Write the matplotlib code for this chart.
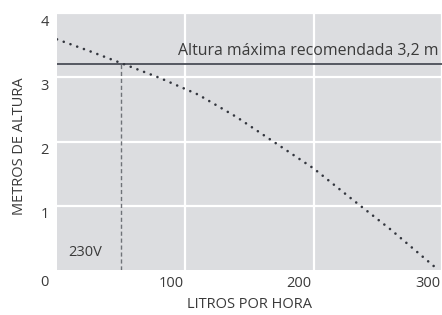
import matplotlib
matplotlib.use("Agg")
import matplotlib.pyplot as plt
import matplotlib.transforms as mtransforms

# flow (litres/hour) vs head (metres)
flow = [0, 25, 50, 80, 110, 140, 170, 200, 230, 260, 296]
height = [3.59, 3.41, 3.22, 2.99, 2.73, 2.38, 1.98, 1.58, 1.10, 0.63, 0.02]

max_height = 3.2
max_label = "Altura máxima recomendada 3,2 m"
voltage_flow = 50
voltage_label = "230V"

x_ticks = [100, 200, 300]
y_ticks = [1, 2, 3, 4]

TEXT = "#3a3a3a"
plt.rcParams["font.family"] = ["Open Sans", "DejaVu Sans"]

fig = plt.figure(figsize=(4.42, 3.15), dpi=100)
ax = fig.add_axes([57 / 442, 45 / 315, 385 / 442, 257 / 315])
ax.set_facecolor("#dcdde0")
for s in ax.spines.values():
    s.set_visible(False)

ax.set_xlim(0, 296)
ax.set_ylim(0, 4)
ax.set_xticks(x_ticks)
ax.set_yticks(y_ticks)
ax.grid(True, color="white", linewidth=1.6)
ax.set_axisbelow(True)
ax.tick_params(length=0, labelsize=10.5, colors=TEXT)
ax.tick_params(axis="y", pad=6)
ax.tick_params(axis="x", pad=4)


def shift(dx, dy):
    return mtransforms.ScaledTranslation(dx / 100, dy / 100, fig.dpi_scale_trans)


# tick labels sit just left of / below the grid lines in the original
for lab in ax.get_xticklabels():
    lab.set_horizontalalignment("right")
    lab.set_transform(lab.get_transform() + shift(-2, 0))
for lab in ax.get_yticklabels():
    lab.set_transform(lab.get_transform() + shift(0, -7))
# shared origin label
ax.text(0, 0, "0", fontsize=10.5, color=TEXT, ha="right", va="top",
        transform=ax.transData + shift(-8, -5))

ax.axhline(max_height, color="#4a4e57", linewidth=1.3)
ax.text(0.99, max_height + 0.09, max_label, transform=ax.get_yaxis_transform(),
        ha="right", va="bottom", fontsize=11.4, color=TEXT)

ax.plot([voltage_flow, voltage_flow], [0, max_height], color="#6f7278",
        linewidth=1.0, linestyle=(0, (3, 2)))
ax.text(8.5, 0.28, voltage_label, fontsize=10.5, color=TEXT, ha="left", va="center")

ax.plot(flow, height, color="#33363e", linewidth=1.9, linestyle=(0, (0.01, 2.7)),
        dash_capstyle="round")

ax.set_xlabel("LITROS POR HORA", fontsize=10.5, color=TEXT)
ax.set_ylabel("METROS DE ALTURA", fontsize=10.5, color=TEXT)
ax.xaxis.set_label_coords((250 - 57) / 385, -27 / 257)
ax.yaxis.set_label_coords(-30 / 385, (270 - 146) / 257)

fig.savefig("out.png", dpi=100)
